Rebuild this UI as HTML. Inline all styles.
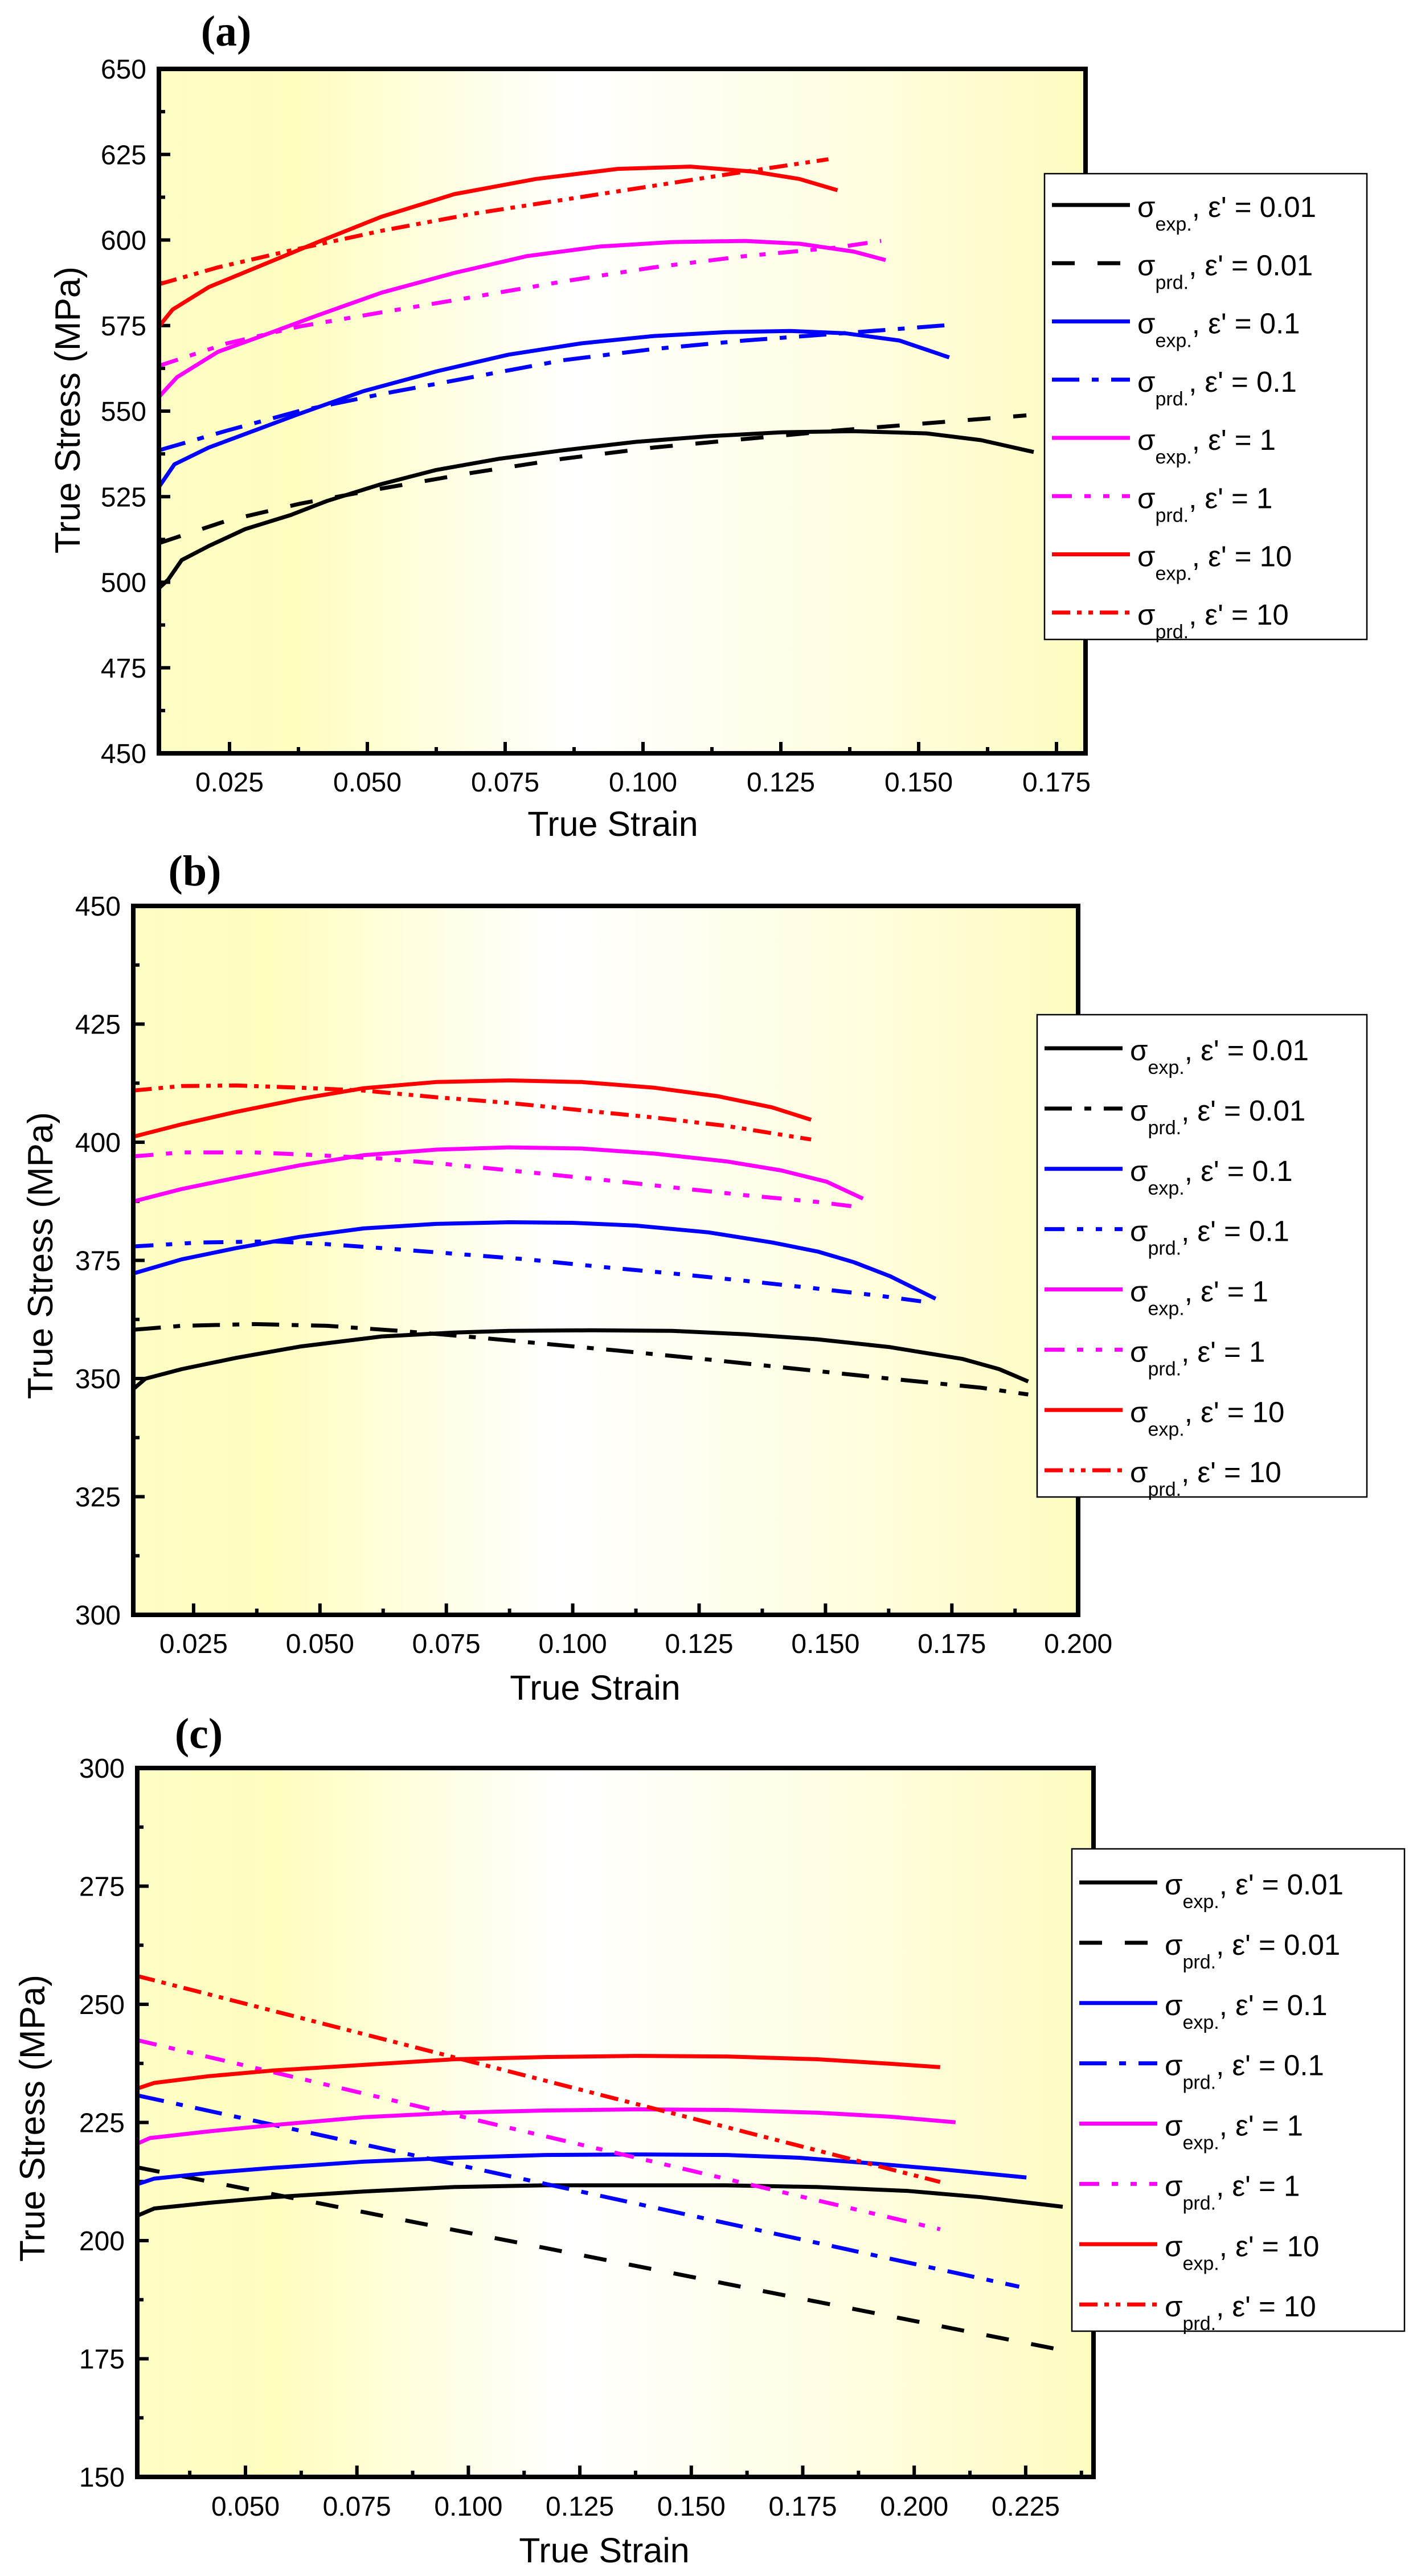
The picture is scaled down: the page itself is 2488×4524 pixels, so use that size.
<!DOCTYPE html>
<html><head><meta charset="utf-8">
<style>
html,body{margin:0;padding:0;background:#fff;}
svg{display:block;}
text{font-family:"Liberation Sans",Arial,sans-serif;fill:#000;}
</style></head>
<body>
<svg id="s" xmlns="http://www.w3.org/2000/svg" width="2488" height="4524" viewBox="0 0 2488 4524">
<defs>
<linearGradient id="bg" x1="0" x2="1" y1="0" y2="0">
<stop offset="0" stop-color="#fdfdc4"/>
<stop offset="0.15" stop-color="#fffdc0"/>
<stop offset="0.45" stop-color="#ffffff"/>
<stop offset="0.75" stop-color="#fffde0"/>
<stop offset="1" stop-color="#fdfcc0"/>
</linearGradient>
</defs>
</svg>
<script>
var NS="http://www.w3.org/2000/svg";
var S=document.getElementById('s');
function el(t,a,txt,parent){var e=document.createElementNS(NS,t);for(var k in a)e.setAttribute(k,a[k]);if(txt!=null)e.textContent=txt;(parent||S).appendChild(e);return e;}
var SX=1.5949,SY=0.9885;
var DASH={solid:null,dash:"40 40",dd:"48 22 12 22",ddd:"35 22 11 22 11 22",rdd:"32 12 8 12 8 12"};
var COL={k:"#000",b:"#0000ff",m:"#ff00ff",r:"#ff0000"};
function panel(P){
  el('rect',{x:P.L,y:P.T,width:P.R-P.L,height:P.B-P.T,fill:"url(#bg)"});
  var ny=Math.round((P.ymax-P.ymin)/25);
  var py=(P.B-P.T)/ny;
  for(var i=0;i<=ny;i++){
    var y=P.B-i*py;
    el('line',{x1:P.L,x2:P.L+20,y1:y,y2:y,stroke:"#000","stroke-width":6});
    if(i<ny){el('line',{x1:P.L,x2:P.L+11,y1:y-py/2,y2:y-py/2,stroke:"#000","stroke-width":6});}
    el('text',{x:P.L-22,y:y+17,"text-anchor":"end","font-size":48},String(P.ymin+25*i));
  }
  for(var j=0;j<P.xt.length;j++){
    var v=P.xt[j];var x=P.x0+v/0.025*P.px;
    el('line',{x1:x,x2:x,y1:P.B,y2:P.B-20,stroke:"#000","stroke-width":6});
    el('text',{x:x,y:P.xly,"text-anchor":"middle","font-size":48},v.toFixed(3));
    var xm=x+P.px/2; if(xm<P.R-5) el('line',{x1:xm,x2:xm,y1:P.B,y2:P.B-11,stroke:"#000","stroke-width":6});
    var xm2=x-P.px/2; if(j==0&&xm2>P.L+5) el('line',{x1:xm2,x2:xm2,y1:P.B,y2:P.B-11,stroke:"#000","stroke-width":6});
  }
  P.curves.forEach(function(c){
    var pts=c.p.map(function(q){return (q[0]*SX).toFixed(1)+","+(P.off+q[1]*SY).toFixed(1);}).join(" ");
    var a={points:pts,fill:"none",stroke:COL[c.c],"stroke-width":7,"stroke-linejoin":"round"};
    if(DASH[c.d])a["stroke-dasharray"]=DASH[c.d];
    el('polyline',a);
  });
  el('rect',{x:P.L,y:P.T,width:P.R-P.L,height:P.B-P.T,fill:"none",stroke:"#000","stroke-width":8});
  var g=P.leg;
  el('rect',{x:g[0],y:g[1],width:g[2]-g[0],height:g[3]-g[1],fill:"#fff",stroke:"#000","stroke-width":2.5});
  var sp=(g[3]-g[1])/8;
  var labs=["0.01","0.01","0.1","0.1","1","1","10","10"];
  var cs=["k","k","b","b","m","m","r","r"];
  for(var k=0;k<8;k++){
    var ly=g[1]+P.lo+k*sp;
    var a={x1:g[0]+13,x2:g[0]+150,y1:ly,y2:ly,stroke:COL[cs[k]],"stroke-width":7};
    var d=(k%2==0)?"solid":P.ld[k>>1];
    if(DASH[d])a["stroke-dasharray"]=DASH[d];
    el('line',a);
    var t=el('text',{x:g[0]+163,y:ly+21,"font-size":51});
    el('tspan',{},"σ",t);
    el('tspan',{dy:24,"font-size":34},(k%2==0)?"exp.":"prd.",t);
    el('tspan',{dy:-24},", ε' = "+labs[k],t);
  }
  el('text',{x:P.lab[0]+46,y:P.lab[1],"text-anchor":"middle","font-size":76,"font-weight":"bold",style:"font-family:'Liberation Serif',serif"},"("+P.name+")");
  el('text',{x:P.xt_[0],y:P.xt_[1],"text-anchor":"middle","font-size":61},"True Strain");
  el('text',{x:0,y:0,"text-anchor":"middle","font-size":62,transform:"translate("+P.yt[0]+","+P.yt[1]+") rotate(-90)"},"True Stress (MPa)");
}

panel({name:"a",off:0,L:279,R:1906,T:121,B:1323,ymin:450,ymax:650,x0:161,px:242,
 xt:[0.025,0.05,0.075,0.1,0.125,0.15,0.175],xly:1390,
 leg:[1834,305,2400,1123],lo:55,ld:["dash","dd","ddd","rdd"],lab:[351,80],xt_:[1076,1468],yt:[140,720],
 curves:[
 {c:"k",d:"solid",p:[[175,1045],[185,1030],[200,995],[230,970],[270,940],[320,915],[360,890],[420,860],[480,835],[550,815],[620,800],[700,785],[780,775],[860,768],[940,766],[1020,770],[1080,782],[1138,803]]},
 {c:"k",d:"dash",p:[[175,965],[250,925],[330,895],[420,868],[520,840],[620,815],[720,795],[820,780],[920,765],[1020,752],[1130,738]]},
 {c:"b",d:"solid",p:[[175,865],[192,825],[230,795],[280,765],[330,735],[400,695],[480,660],[560,630],[640,610],[720,597],[800,590],[870,588],[930,592],[990,605],[1045,635]]},
 {c:"b",d:"dd",p:[[175,800],[250,765],[330,730],[420,700],[520,670],[620,640],[720,620],[820,605],[920,593],[1040,578]]},
 {c:"m",d:"solid",p:[[175,705],[195,670],[240,625],[300,590],[350,560],[420,520],[500,485],[580,455],[660,438],[740,430],[820,428],[880,433],[940,447],[975,462]]},
 {c:"m",d:"ddd",p:[[175,650],[250,610],[330,580],[420,555],[520,528],[620,500],[720,475],[820,455],[920,440],[970,428]]},
 {c:"r",d:"solid",p:[[175,580],[190,550],[230,510],[290,470],[350,430],[420,385],[500,345],[590,318],[680,300],[760,296],[830,305],[880,318],[922,338]]},
 {c:"r",d:"rdd",p:[[175,505],[240,475],[320,445],[420,410],[520,380],[620,355],[720,330],[820,305],[912,283]]}
 ]});

panel({name:"b",off:1500,L:234,R:1893,T:1591,B:2836,ymin:300,ymax:450,x0:118,px:221.9,
 xt:[0.025,0.05,0.075,0.1,0.125,0.15,0.175,0.2],xly:2903,
 leg:[1821,1782,2400,2629],lo:59,ld:["dd","ddd","ddd","rdd"],lab:[296,1555],xt_:[1045,2985],yt:[92,2205],
 curves:[
 {c:"k",d:"solid",p:[[147,950],[160,932],[200,915],[260,895],[330,875],[420,857],[500,850],[560,847],[650,846],[740,847],[820,853],[900,862],[980,876],[1060,897],[1100,915],[1132,937]]},
 {c:"k",d:"dd",p:[[147,845],[200,838],[280,835],[360,838],[440,847],[520,858],[600,870],[680,882],[780,898],[880,915],[980,932],[1080,948],[1132,960]]},
 {c:"b",d:"solid",p:[[147,745],[200,720],[260,700],[330,680],[400,665],[480,657],[560,654],[630,655],[700,660],[780,672],[850,690],[900,706],[940,725],[980,750],[1030,790]]},
 {c:"b",d:"ddd",p:[[147,697],[220,690],[300,688],[360,693],[420,700],[500,710],[580,720],[660,733],[740,745],[820,758],[900,772],[970,785],[1025,797]]},
 {c:"m",d:"solid",p:[[147,617],[200,595],[260,575],[330,553],[400,535],[480,525],[560,521],[640,523],[720,532],[800,546],[860,562],[910,582],[950,612]]},
 {c:"m",d:"ddd",p:[[147,537],[200,530],[280,530],[350,535],[420,541],[500,552],[580,565],[660,578],[740,592],[820,606],[900,618],[950,628]]},
 {c:"r",d:"solid",p:[[147,502],[200,480],[260,458],[330,435],[400,416],[480,405],[560,402],[640,405],[720,415],[790,430],[850,450],[893,472]]},
 {c:"r",d:"rdd",p:[[147,420],[200,412],[260,411],[330,415],[400,420],[480,432],[560,442],[640,455],[720,468],[800,483],[893,507]]}
 ]});

panel({name:"c",off:2974,L:241,R:1920,T:3105,B:4350,ymin:150,ymax:300,x0:39.6,px:195.7,
 xt:[0.05,0.075,0.1,0.125,0.15,0.175,0.2,0.225],xly:4418,
 leg:[1882,3247,2466,4094],lo:59,ld:["dash","dd","ddd","rdd"],lab:[303,3070],xt_:[1061,4500],yt:[78,3720],
 curves:[
 {c:"k",d:"solid",p:[[151,928],[170,915],[230,905],[300,895],[400,885],[500,877],[600,874],[700,874],[800,874],[900,877],[1000,884],[1080,895],[1170,912]]},
 {c:"k",d:"dash",p:[[151,842],[1170,1167]]},
 {c:"b",d:"solid",p:[[151,872],[170,862],[230,852],[300,843],[400,832],[500,825],[600,820],[700,819],[800,820],[880,825],[960,835],[1040,846],[1130,860]]},
 {c:"b",d:"dd",p:[[151,714],[1122,1054]]},
 {c:"m",d:"solid",p:[[151,800],[165,790],[230,778],[300,767],[400,753],[500,745],[600,741],[700,739],[800,740],[900,745],[980,752],[1052,762]]},
 {c:"m",d:"ddd",p:[[151,616],[1035,952]]},
 {c:"r",d:"solid",p:[[151,702],[170,692],[230,680],[300,670],[400,660],[500,650],[600,646],[700,644],[800,645],[900,650],[980,658],[1035,664]]},
 {c:"r",d:"rdd",p:[[151,502],[1035,868]]}
 ]});
</script>
</body></html>
